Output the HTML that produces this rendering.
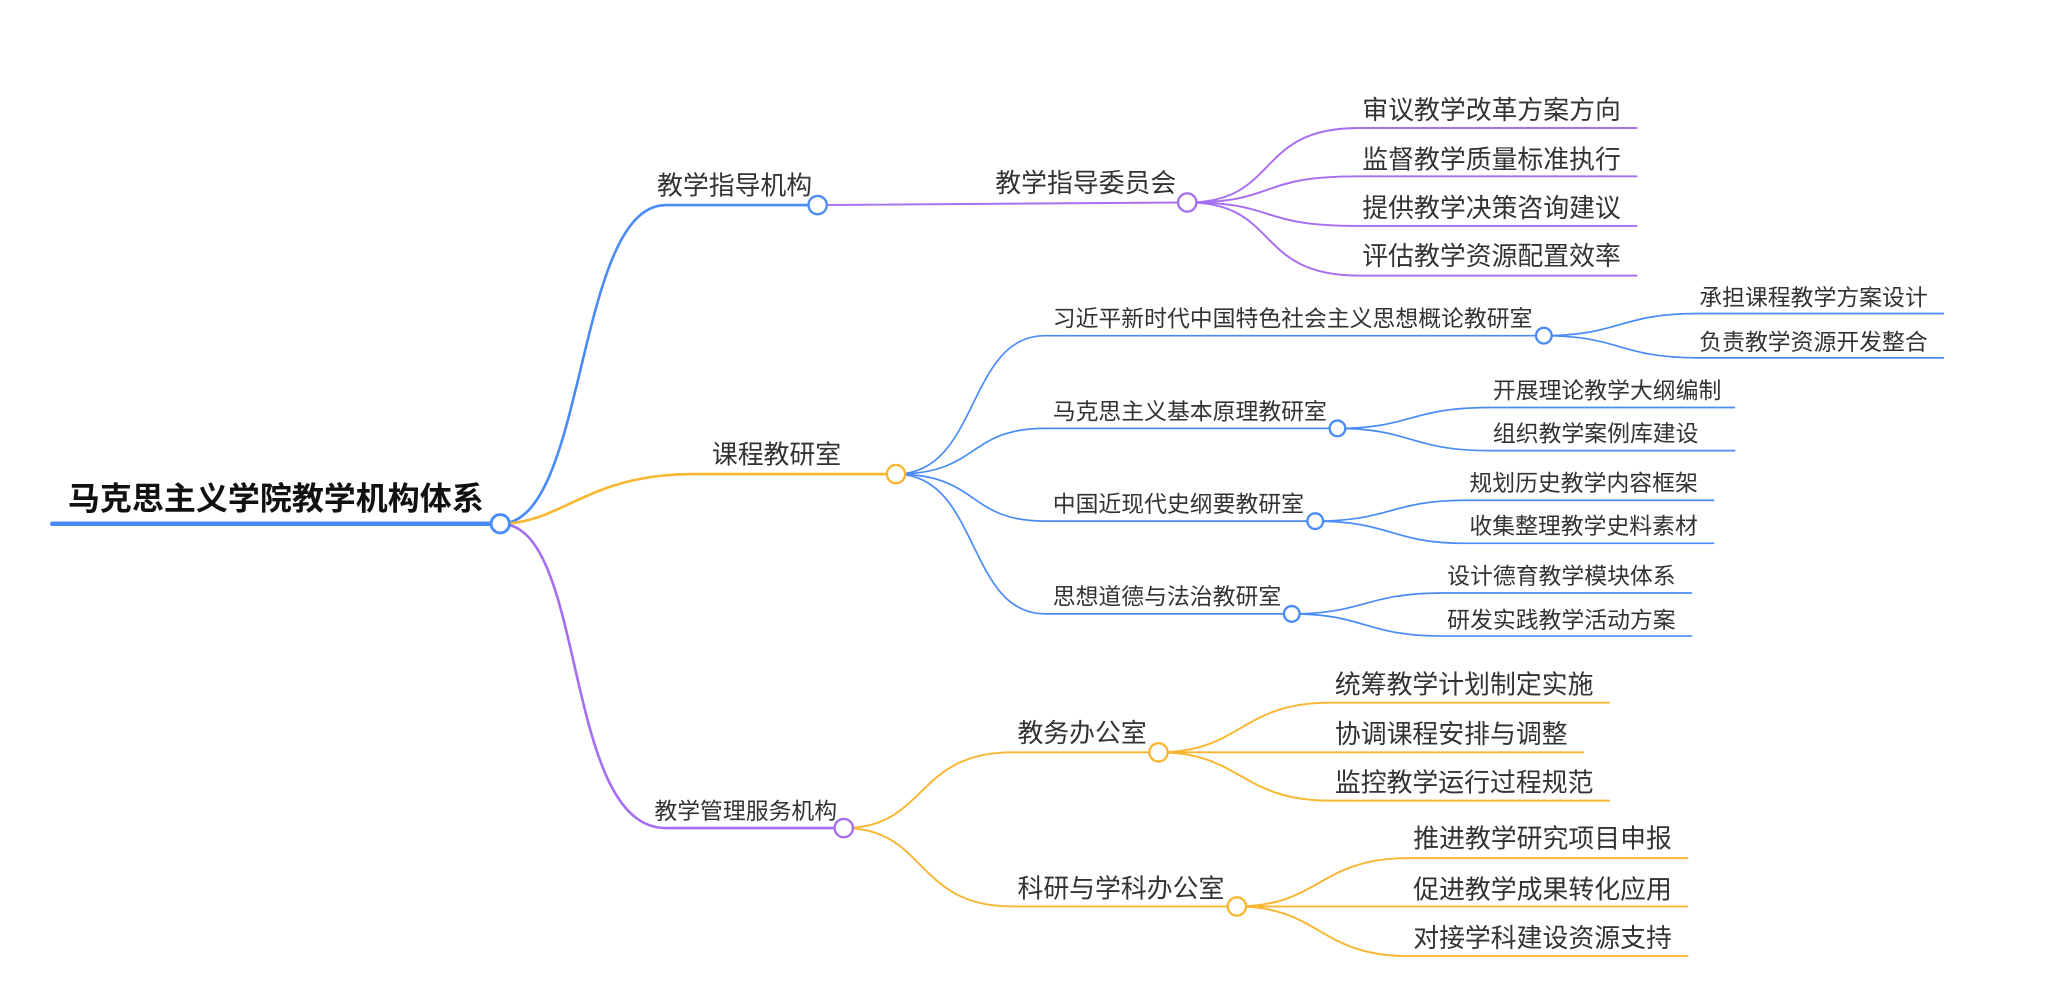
<!DOCTYPE html>
<html><head><meta charset="utf-8"><style>
html,body{margin:0;padding:0;background:#fff;}
svg{display:block;}
text{font-family:"Liberation Sans","Noto Sans CJK SC",sans-serif;fill:#333;}
</style></head><body>
<svg width="2048" height="1004" viewBox="0 0 1568 768.7" xmlns="http://www.w3.org/2000/svg">
<g fill="none" stroke-linecap="round">
<path d="M40 401 H383" stroke="#4a8cf7" stroke-width="3.5"/>
<path d="M383 401 C450 401 440 157 510 157 H626" stroke="#4a8cf7" stroke-width="2"/>
<path d="M383 401 C430 401 450 363 530 363 H686" stroke="#f8b631" stroke-width="2"/>
<path d="M383 401 C450 401 430 634 510 634 H646" stroke="#a66ff0" stroke-width="2"/>
<path d="M626 157 L909 155" stroke="#a66ff0" stroke-width="1.5"/>
<g stroke="#a66ff0" stroke-width="1.5">
<path d="M909 155 C980 155 960 98 1040 98 H1253"/>
<path d="M909 155 C980 155 960 135 1040 135 H1253"/>
<path d="M909 155 C980 155 960 173 1040 173 H1253"/>
<path d="M909 155 C980 155 960 211 1040 211 H1253"/>
</g>
<g stroke="#4a8cf7" stroke-width="1.3">
<path d="M686 363 C750 363 740 257 800 257 H1182"/>
<path d="M686 363 C750 363 740 328 800 328 H1024"/>
<path d="M686 363 C750 363 740 399 800 399 H1007"/>
<path d="M686 363 C750 363 740 470 800 470 H989"/>
<path d="M1182 257 C1240 257 1240 240 1300 240 H1488"/>
<path d="M1182 257 C1240 257 1240 274 1300 274 H1488"/>
<path d="M1024 328 C1080 328 1080 312 1140 312 H1328"/>
<path d="M1024 328 C1080 328 1080 345 1140 345 H1328"/>
<path d="M1007 399 C1065 399 1065 383 1122 383 H1312"/>
<path d="M1007 399 C1065 399 1065 416 1122 416 H1312"/>
<path d="M989 470 C1045 470 1045 454 1105 454 H1295"/>
<path d="M989 470 C1045 470 1045 487 1105 487 H1295"/>
</g>
<g stroke="#f8b631" stroke-width="1.5">
<path d="M646 634 C710 634 700 576 775 576 H887"/>
<path d="M646 634 C710 634 700 694 775 694 H947"/>
<path d="M887 576 C950 576 950 538 1018 538 H1232"/>
<path d="M887 576 H1212"/>
<path d="M887 576 C950 576 950 613 1018 613 H1232"/>
<path d="M947 694 C1010 694 1010 657 1078 657 H1292"/>
<path d="M947 694 H1292"/>
<path d="M947 694 C1010 694 1010 732 1078 732 H1292"/>
</g>
</g>
<g fill="#fff" stroke-width="1.8">
<circle cx="383" cy="401" r="7" stroke="#4a8cf7" stroke-width="2.2"/>
<circle cx="626" cy="157" r="7" stroke="#4a8cf7"/>
<circle cx="686" cy="363" r="7" stroke="#f8b631"/>
<circle cx="646" cy="634" r="7" stroke="#a66ff0"/>
<circle cx="909" cy="155" r="7" stroke="#a66ff0"/>
<circle cx="1182" cy="257" r="6" stroke="#4a8cf7"/>
<circle cx="1024" cy="328" r="6" stroke="#4a8cf7"/>
<circle cx="1007" cy="399" r="6" stroke="#4a8cf7"/>
<circle cx="989" cy="470" r="6" stroke="#4a8cf7"/>
<circle cx="887" cy="576" r="7" stroke="#f8b631"/>
<circle cx="947" cy="694" r="7" stroke="#f8b631"/>
</g>
<text x="52" y="390" font-size="24.5" font-weight="bold" style="fill:#111">马克思主义学院教学机构体系</text>
<g font-size="19.8">
<text x="503" y="149">教学指导机构</text>
<text x="545" y="355">课程教研室</text>
<text x="762" y="147">教学指导委员会</text>
<text x="779" y="568">教务办公室</text>
<text x="779" y="687">科研与学科办公室</text>
<text x="1043" y="91">审议教学改革方案方向</text>
<text x="1043" y="129">监督教学质量标准执行</text>
<text x="1043" y="166">提供教学决策咨询建议</text>
<text x="1043" y="203">评估教学资源配置效率</text>
<text x="1022" y="531">统筹教学计划制定实施</text>
<text x="1022" y="569">协调课程安排与调整</text>
<text x="1022" y="606">监控教学运行过程规范</text>
<text x="1082" y="649">推进教学研究项目申报</text>
<text x="1082" y="688">促进教学成果转化应用</text>
<text x="1082" y="725">对接学科建设资源支持</text>
</g>
<g font-size="17.5">
<text x="501" y="627">教学管理服务机构</text>
<text x="806" y="250">习近平新时代中国特色社会主义思想概论教研室</text>
<text x="806" y="321">马克思主义基本原理教研室</text>
<text x="806" y="392">中国近现代史纲要教研室</text>
<text x="806" y="463">思想道德与法治教研室</text>
<text x="1301" y="234">承担课程教学方案设计</text>
<text x="1301" y="268">负责教学资源开发整合</text>
<text x="1143" y="305">开展理论教学大纲编制</text>
<text x="1143" y="338">组织教学案例库建设</text>
<text x="1125" y="376">规划历史教学内容框架</text>
<text x="1125" y="409">收集整理教学史料素材</text>
<text x="1108" y="447">设计德育教学模块体系</text>
<text x="1108" y="481">研发实践教学活动方案</text>
</g>
</svg>
</body></html>
